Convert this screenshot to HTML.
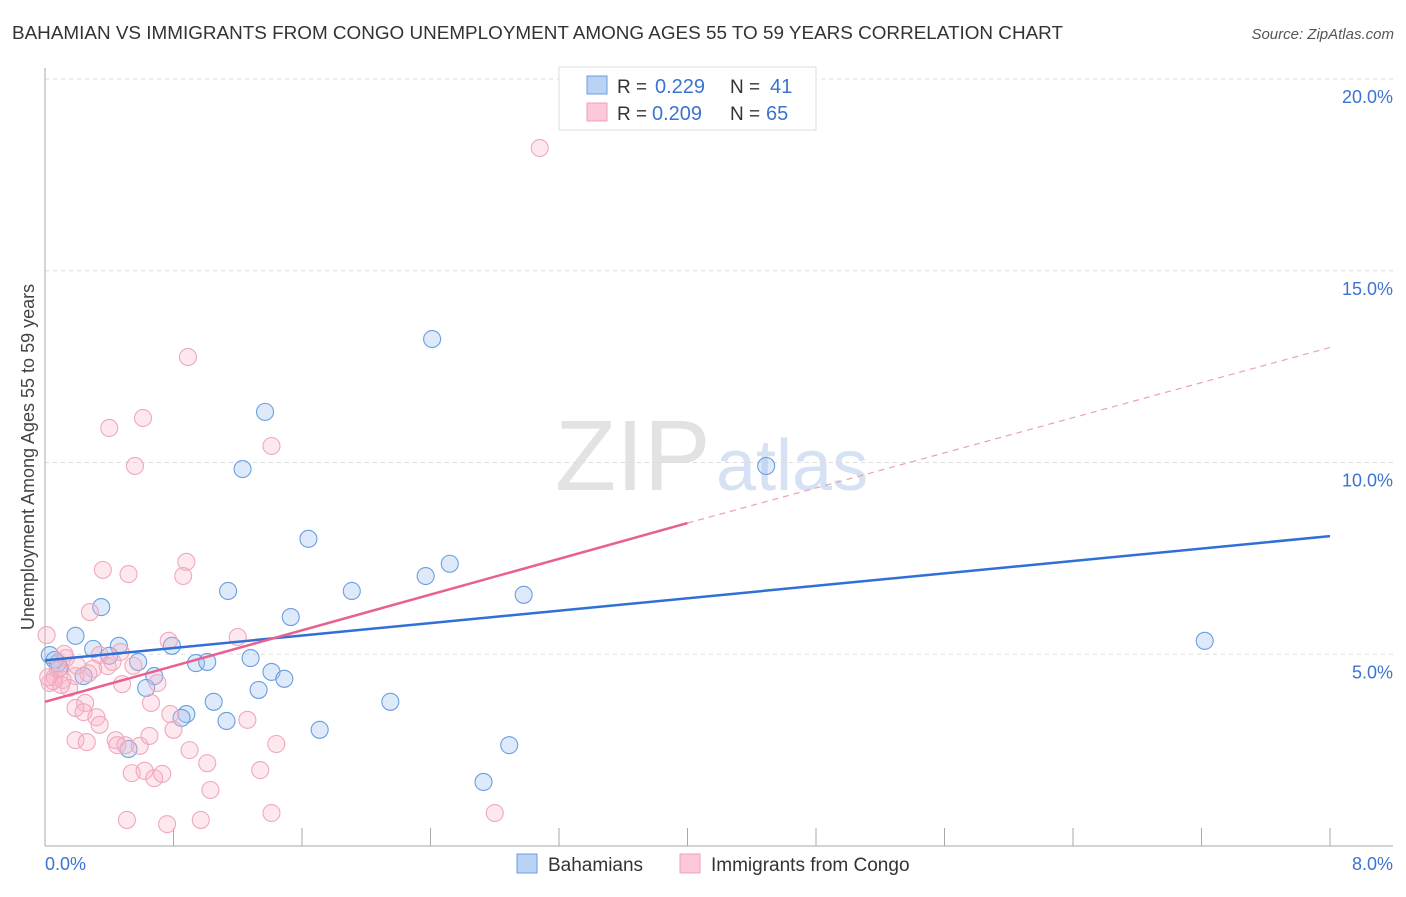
<!DOCTYPE html>
<html><head><meta charset="utf-8"><style>
body{margin:0;background:#fff;font-family:"Liberation Sans",sans-serif;}
svg text{font-family:"Liberation Sans",sans-serif;}
</style></head><body>
<svg id="chart" width="1406" height="892" xmlns="http://www.w3.org/2000/svg">
<text x="12" y="39" font-size="18" fill="#333" textLength="1051" lengthAdjust="spacingAndGlyphs">BAHAMIAN VS IMMIGRANTS FROM CONGO UNEMPLOYMENT AMONG AGES 55 TO 59 YEARS CORRELATION CHART</text>
<text x="1394" y="39" font-size="15" fill="#555" text-anchor="end" font-style="italic">Source: ZipAtlas.com</text>
<g>
<text x="555" y="490" font-size="100" fill="#e2e2e2" font-family="Liberation Serif,serif">ZIP</text>
<text x="716" y="490" font-size="72" fill="#d6e2f3">atlas</text>
</g>
<g id="grid"></g>
<g id="axes"></g>
<g id="points"></g>
<g id="lines"></g>
<text transform="translate(34,457) rotate(-90)" font-size="18" fill="#444" text-anchor="middle">Unemployment Among Ages 55 to 59 years</text>
<g>
<rect x="559" y="67" width="257" height="63" fill="#fff" stroke="#ddd"/>
<rect x="587" y="76" width="20" height="18" fill="#b9d3f5" stroke="#6a9ee0"/>
<rect x="587" y="103" width="20" height="18" fill="#fbc9d7" stroke="#f0a0b8"/>
<text x="617" y="93" font-size="19" fill="#333">R =</text>
<text x="655" y="93" font-size="20" fill="#3b74d0">0.229</text>
<text x="730" y="93" font-size="19" fill="#333">N =</text>
<text x="770" y="93" font-size="20" fill="#3b74d0">41</text>
<text x="617" y="120" font-size="19" fill="#333">R =</text>
<text x="652" y="120" font-size="20" fill="#3b74d0">0.209</text>
<text x="730" y="120" font-size="19" fill="#333">N =</text>
<text x="766" y="120" font-size="20" fill="#3b74d0">65</text>
</g>
<g>
<rect x="517" y="854" width="20" height="19" fill="#b9d3f5" stroke="#6a9ee0"/>
<text x="548" y="871" font-size="19" fill="#333">Bahamians</text>
<rect x="680" y="854" width="20" height="19" fill="#fbc9d7" stroke="#f0a0b8"/>
<text x="711" y="871" font-size="19" fill="#333">Immigrants from Congo</text>
</g>
</svg>
<script>
const yTicks=[5,10,15,20];
const xTickLabels=["0.0%","8.0%"];
const blueX=[2.41,1.37,1.23,4.49,1.64,2.52,2.37,1.91,1.14,2.98,0.35,1.53,7.22,0.19,0.30,0.46,0.79,0.40,0.58,0.94,1.01,1.28,0.08,0.09,0.24,0.68,1.41,1.49,0.63,1.33,1.05,2.15,0.88,0.85,1.13,1.71,2.89,0.52,2.73,0.03,0.06];
const blueY=[13.22,11.32,9.83,9.91,8.01,7.36,7.04,6.65,6.65,6.55,6.23,5.97,5.35,5.48,5.14,5.22,5.22,4.96,4.80,4.77,4.80,4.90,4.77,4.64,4.43,4.43,4.54,4.36,4.12,4.07,3.76,3.76,3.44,3.34,3.26,3.03,2.63,2.53,1.67,4.98,4.85];
const pinkX=[3.08,0.89,0.61,0.40,1.41,0.56,0.88,0.36,0.52,0.86,0.28,1.20,0.77,0.01,0.12,0.34,0.47,0.39,0.30,0.19,0.06,0.03,0.11,0.15,0.48,0.70,0.66,0.25,0.19,0.24,0.32,0.34,0.78,0.80,1.26,0.19,0.26,0.44,0.45,0.50,0.59,0.65,0.90,1.44,0.54,0.62,0.68,0.73,1.01,1.34,1.03,0.51,0.76,0.97,1.41,2.80,0.08,0.20,0.13,0.05,0.27,0.42,0.55,0.10,0.02];
const pinkY=[18.2,12.75,11.16,10.9,10.43,9.91,7.41,7.20,7.09,7.04,6.10,5.45,5.35,5.50,5.01,4.98,5.06,4.69,4.62,4.43,4.41,4.25,4.33,4.12,4.22,4.25,3.73,3.73,3.60,3.49,3.36,3.16,3.44,3.03,3.29,2.76,2.71,2.76,2.63,2.63,2.61,2.87,2.50,2.66,1.90,1.96,1.77,1.88,2.16,1.98,1.46,0.68,0.57,0.68,0.86,0.86,4.6,4.7,4.9,4.3,4.5,4.8,4.7,4.2,4.4];
const blueLine=[0,4.84,8,8.08];
const pinkLine=[0,3.76,4.0,8.42,8,13.0];
const X=v=>45+v/8*1285;
const Y=v=>846-v/20*767;
const NS="http://www.w3.org/2000/svg";
function mk(parent,tag,attrs){const e=document.createElementNS(NS,tag);for(const k in attrs)e.setAttribute(k,attrs[k]);document.getElementById(parent).appendChild(e);return e;}
yTicks.forEach(t=>{
 const l=mk('grid','line',{x1:45,x2:1393,y1:Y(t),y2:Y(t),stroke:'#ddd','stroke-dasharray':'4,4'});
 
 
 const tx=mk('grid','text',{x:1393,y:Y(t)+24,'font-size':18,fill:'#3b74d0','text-anchor':'end'});
 tx.textContent=t.toFixed(1)+'%';
 
 
});
const ax=mk('axes','line',{x1:45,x2:45,y1:68,y2:846,stroke:'#aaa'});


const bx=mk('axes','line',{x1:45,x2:1393,y1:846,y2:846,stroke:'#aaa'});


for(let i=0;i<=10;i++){const v=i*0.8;const t=mk('axes','line',{x1:X(v),x2:X(v),y1:828,y2:846,stroke:'#aaa'});
 
 }
[[0,45,'start'],[8,1393,'end']].forEach((d,i)=>{const t=mk('axes','text',{x:d[1],y:870,'font-size':18,fill:'#3b74d0','text-anchor':d[2]});t.textContent=xTickLabels[i];
 
 });
blueX.forEach((x,i)=>{const c=mk('points','circle',{cx:X(x),cy:Y(blueY[i]),r:8.5,fill:'rgba(160,196,240,0.35)',stroke:'#6a9ee0','stroke-width':1.1});
 
 });
pinkX.forEach((x,i)=>{const c=mk('points','circle',{cx:X(x),cy:Y(pinkY[i]),r:8.5,fill:'rgba(248,180,200,0.3)',stroke:'#f0a8be','stroke-width':1.1});
 
 });
const bl=mk('lines','line',{x1:X(blueLine[0]),y1:Y(blueLine[1]),x2:X(blueLine[2]),y2:Y(blueLine[3]),stroke:'#2f6fd6','stroke-width':2.5});


const pl=mk('lines','line',{x1:X(pinkLine[0]),y1:Y(pinkLine[1]),x2:X(pinkLine[2]),y2:Y(pinkLine[3]),stroke:'#e8608e','stroke-width':2.5});


const pd=mk('lines','line',{x1:X(pinkLine[2]),y1:Y(pinkLine[3]),x2:X(pinkLine[4]),y2:Y(pinkLine[5]),stroke:'#eaa0b8','stroke-width':1.2,'stroke-dasharray':'6,5'});


</script>
</body></html>
